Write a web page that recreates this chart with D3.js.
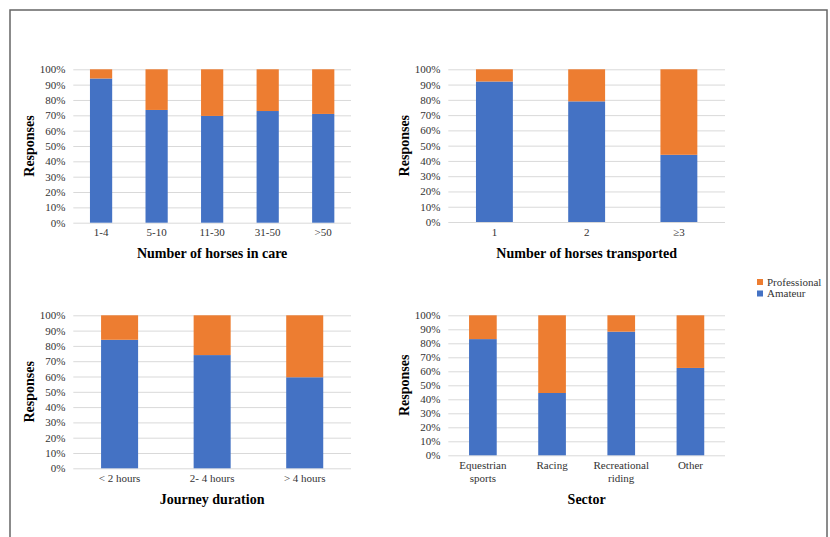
<!DOCTYPE html>
<html><head><meta charset="utf-8">
<script src="https://cdn.jsdelivr.net/npm/d3@7"></script>
<style>body{margin:0;background:#fff}svg{display:block}</style>
</head><body>
<svg id="c" width="830" height="537"></svg>
<script>
// ---- data ----
const yTicks = [0,10,20,30,40,50,60,70,80,90,100];
const seriesNames = ["Professional","Amateur"];
const careCats = ["1-4","5-10","11-30","31-50",">50"];
const careAmateur = [94, 73.5, 69.6, 72.8, 70.9];
const transCats = ["1","2","≥3"];
const transAmateur = [92, 79, 44];
const journeyCats = ["< 2 hours","2- 4 hours","> 4 hours"];
const journeyAmateur = [84, 74, 59.5];
const sectorCats = ["Equestrian\nsports","Racing","Recreational\nriding","Other"];
const sectorAmateur = [83, 44.5, 88.3, 62.4];
const titles = ["Number of horses in care","Number of horses transported","Journey duration","Sector"];

const colors = {Professional:"#ED7D31", Amateur:"#4472C4"};
const svg = d3.select("#c");
const font = "'Liberation Serif','Times New Roman',serif";

svg.append("rect").attr("x",10).attr("y",10).attr("width",817).attr("height",540)
  .attr("fill","none").attr("stroke","#666").attr("stroke-width",1.5);

const panels = [
  {cats:careCats, am:careAmateur, title:titles[0], l:73.3, r:351, t:69.3, b:222.7, ty:253},
  {cats:transCats, am:transAmateur, title:titles[1], l:448.3, r:725, t:69.3, b:222, ty:253},
  {cats:journeyCats, am:journeyAmateur, title:titles[2], l:73.3, r:351, t:315.3, b:468.3, ty:499},
  {cats:sectorCats, am:sectorAmateur, title:titles[3], l:448.3, r:725, t:315.3, b:455.3, ty:499}
];

panels.forEach(p => {
  const g = svg.append("g");
  const x = d3.scaleBand().domain(p.cats).range([p.l,p.r]).paddingInner(0.6).paddingOuter(0.3);
  const y = d3.scaleLinear().domain([0,100]).range([p.b,p.t]);
  const ya = g.append("g").attr("transform",`translate(${p.l},0)`)
    .call(d3.axisLeft(y).tickValues(yTicks).tickFormat(d=>d+"%").tickSize(-(p.r-p.l)).tickPadding(8));
  ya.select(".domain").remove();
  ya.selectAll("line").attr("stroke","#d9d9d9").attr("stroke-width",1);
  ya.selectAll("text").attr("font-family",font).attr("font-size",11).attr("fill","#333");

  const rows = p.cats.map((c,i)=>({cat:c, Amateur:p.am[i], Professional:100-p.am[i]}));
  const stack = d3.stack().keys(["Amateur","Professional"])(rows);
  g.selectAll("g.s").data(stack).join("g").attr("fill",d=>colors[d.key])
    .selectAll("rect").data(d=>d).join("rect")
    .attr("x",d=>x(d.data.cat)).attr("width",x.bandwidth())
    .attr("y",d=>y(d[1])).attr("height",d=>y(d[0])-y(d[1]));

  const xa = g.append("g").attr("transform",`translate(0,${p.b})`)
    .call(d3.axisBottom(x).tickSize(0).tickPadding(6));
  xa.select(".domain").remove();
  xa.selectAll("text").attr("font-family",font).attr("font-size",11).attr("fill","#333")
    .each(function(d){
      const lines = d.split("\n");
      const t = d3.select(this).text(null);
      lines.forEach((ln,i)=>t.append("tspan").attr("x",0).attr("dy", i===0?"0.71em":"1.2em").text(ln));
    });

  g.append("text").attr("x",(p.l+p.r)/2).attr("y",p.ty).attr("dy","0.35em")
    .attr("text-anchor","middle").attr("font-family",font).attr("font-weight","bold")
    .attr("font-size",14).attr("fill","#000").text(p.title);
  g.append("text").attr("transform",`translate(${p.l-44},${(p.t+p.b)/2}) rotate(-90)`)
    .attr("dy","0.35em").attr("text-anchor","middle").attr("font-family",font).attr("font-weight","bold")
    .attr("font-size",14).attr("fill","#000").text("Responses");
});

// legend
const lg = svg.append("g").attr("transform","translate(757,282)");
seriesNames.forEach((s,i)=>{
  lg.append("rect").attr("x",0).attr("y",i*11.5-3).attr("width",6).attr("height",6).attr("fill",colors[s]);
  lg.append("text").attr("x",10).attr("y",i*11.5).attr("dy","0.35em").attr("font-family",font)
    .attr("font-size",11).attr("fill","#333").text(s);
});
</script>
</body></html>
